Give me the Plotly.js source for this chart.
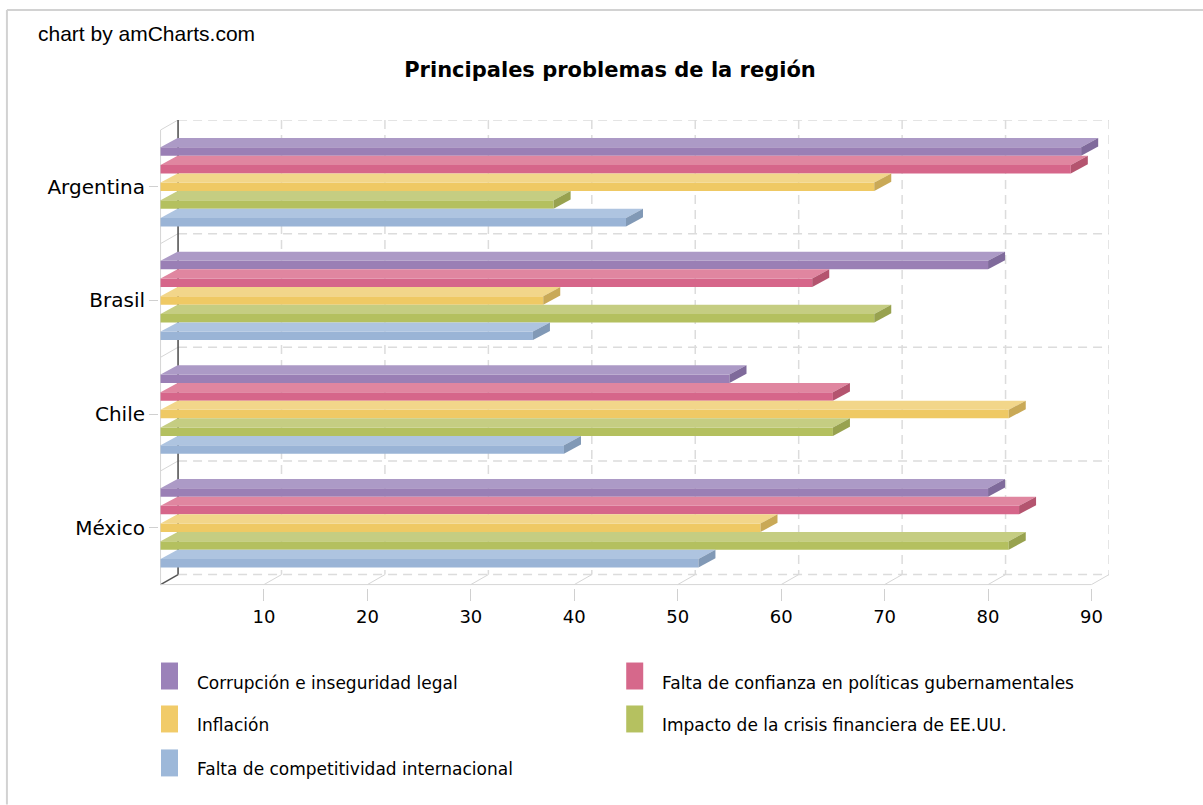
<!DOCTYPE html>
<html>
<head>
<meta charset="utf-8">
<script src="https://cdn.plot.ly/plotly-3.0.1.min.js"></script>
<style>
  html, body { margin: 0; padding: 0; background: #ffffff; }
  #chart { width: 1203px; height: 805px; }
</style>
</head>
<body>
<div id="chart"></div>
<script>
// ---------------- data ----------------
const categories = ['Argentina', 'Brasil', 'Chile', 'México'];
const seriesNames = [
  'Corrupción e inseguridad legal',
  'Falta de confianza en políticas gubernamentales',
  'Inflación',
  'Impacto de la crisis financiera de EE.UU.',
  'Falta de competitividad internacional'
];
const corrupcion     = [89, 80, 55, 80];
const confianza      = [88, 63, 65, 83];
const inflacion      = [69, 37, 82, 58];
const crisis         = [38, 69, 65, 82];
const competitividad = [45, 36, 39, 52];
const xTickVals = [10, 20, 30, 40, 50, 60, 70, 80, 90];
const xTickText = ['10', '20', '30', '40', '50', '60', '70', '80', '90'];

const chartTitle = 'Principales problemas de la región';
const creditText = 'chart by amCharts.com';

// ---------------- styles ----------------
const frontColors  = ['#9a7fb5', '#d6668a', '#efc964', '#b4c05f', '#9ab4d6'];
const topColors    = ['#ac9ac6', '#e086a0', '#f2d68a', '#c5cd82', '#aec4e0'];
const capColors    = ['#7f6a9b', '#b4546f', '#c9a957', '#98a24f', '#8199b6'];
const legendColors = ['#9b82b9', '#d6688b', '#f1cb69', '#b5c160', '#9db8d9'];

const allSeries = [corrupcion, confianza, inflacion, crisis, competitividad];

// geometry (data units)
const PXU = 10.339, PYU = 113.75;
const S = 17.7 / PYU;      // step between bars in a group
const BDY = 9.2 / PYU;     // bar depth (vertical)
const BH = S - BDY;        // front face height
const BDX = 17 / PXU;      // bar depth (horizontal)
const PDX = 17.5 / PXU;    // plane depth (horizontal)
const PDY = 10 / PYU;      // plane depth (vertical)
const XMAX = 90;
const xRange = [-0.15, XMAX + PDX];
const yRange = [3.53, -0.5 - PDY];

const L = 159, T = 120;
const W = (xRange[1] - xRange[0]) * PXU;
const H = (yRange[0] - yRange[1]) * PYU;
const R = 1203 - L - W;
const B = 805 - T - H;
const px2x = p => (p - L) / W;
const py2y = p => (T + H - p) / H;

const catPos = categories.map((c, k) => k);

// ---------------- traces ----------------
const traces = allSeries.map((vals, i) => ({
  type: 'bar',
  orientation: 'h',
  name: seriesNames[i],
  x: vals,
  y: catPos,
  width: BH,
  offset: (i - 2) * S - BH / 2,
  marker: { color: frontColors[i], line: { width: 0 } },
  showlegend: false,
  hovertemplate: '%{x}<extra>' + seriesNames[i] + '</extra>'
}));

// ---------------- shapes ----------------
const shapes = [];
const gridColor = '#dcdcdc';
const yTopBack = -0.5 - PDY, yBotBack = 3.5 - PDY;

// back plane vertical dashed grid lines
xTickVals.forEach(v => {
  shapes.push({ type: 'line', xref: 'x', yref: 'y', layer: 'below',
    x0: v + PDX, x1: v + PDX, y0: yTopBack, y1: yBotBack,
    line: { color: gridColor, width: 1.5, dash: '9px,6px' } });
});
// back plane horizontal dashed grid lines (category boundaries)
for (let k = 0; k <= categories.length; k++) {
  shapes.push({ type: 'line', xref: 'x', yref: 'y', layer: 'below',
    x0: PDX, x1: XMAX + PDX, y0: k - 0.5 - PDY, y1: k - 0.5 - PDY,
    line: { color: gridColor, width: 1.5, dash: '9px,6px' } });
}
// floor connectors (front -> back) at each tick
[0].concat(xTickVals).forEach(v => {
  shapes.push({ type: 'line', xref: 'x', yref: 'y', layer: 'below',
    x0: v, x1: v + PDX, y0: 3.5, y1: 3.5 - PDY,
    line: { color: v === 0 ? '#555555' : '#d6d6d6', width: v === 0 ? 1.5 : 1 } });
});
// left wall connectors at category boundaries
for (let k = 0; k < categories.length; k++) {
  shapes.push({ type: 'line', xref: 'x', yref: 'y', layer: 'below',
    x0: 0, x1: PDX, y0: k - 0.5, y1: k - 0.5 - PDY,
    line: { color: '#d6d6d6', width: 1 } });
}
// front left line and front bottom line
shapes.push({ type: 'line', xref: 'x', yref: 'y', layer: 'below',
  x0: 0, x1: 0, y0: -0.5, y1: 3.5, line: { color: '#d6d6d6', width: 1 } });
shapes.push({ type: 'line', xref: 'x', yref: 'y', layer: 'below',
  x0: 0, x1: XMAX, y0: 3.5, y1: 3.5, line: { color: '#d6d6d6', width: 1 } });
// dark back value-axis line
shapes.push({ type: 'line', xref: 'x', yref: 'y', layer: 'below',
  x0: PDX, x1: PDX, y0: yTopBack, y1: yBotBack, line: { color: '#555555', width: 1.6 } });

// 3D faces of bars (top faces and end caps), computed from the data
allSeries.forEach((vals, i) => {
  vals.forEach((v, k) => {
    const yt = catPos[k] + (i - 2) * S - BH / 2;
    const yb = yt + BH;
    shapes.push({ type: 'path', xref: 'x', yref: 'y', layer: 'above',
      path: `M 0,${yt} L ${v},${yt} L ${v + BDX},${yt - BDY} L ${BDX},${yt - BDY} Z`,
      fillcolor: topColors[i], line: { width: 0 } });
    shapes.push({ type: 'path', xref: 'x', yref: 'y', layer: 'above',
      path: `M ${v},${yt} L ${v},${yb} L ${v + BDX},${yb - BDY} L ${v + BDX},${yt - BDY} Z`,
      fillcolor: capColors[i], line: { width: 0 } });
  });
});

// outer frame (top and left)
shapes.push({ type: 'line', xref: 'paper', yref: 'paper',
  x0: px2x(7), x1: px2x(1203), y0: py2y(10), y1: py2y(10), line: { color: '#d2d2d2', width: 2 } });
shapes.push({ type: 'line', xref: 'paper', yref: 'paper',
  x0: px2x(7), x1: px2x(7), y0: py2y(10), y1: py2y(805), line: { color: '#d2d2d2', width: 2 } });

// ---------------- legend (manual) ----------------
const annotations = [];
const legCols = [161, 626];
const legRows = [663, 706, 750];
const MW = 17, MH = 27;
seriesNames.forEach((n, i) => {
  const cx = legCols[i % 2], ry = legRows[Math.floor(i / 2)];
  shapes.push({ type: 'rect', xref: 'paper', yref: 'paper',
    x0: px2x(cx), x1: px2x(cx + MW), y0: py2y(ry), y1: py2y(ry + MH),
    fillcolor: legendColors[i], line: { width: 0 } });
  annotations.push({ xref: 'paper', yref: 'paper', x: px2x(cx + 34), y: py2y(ry + MH - 7),
    xanchor: 'left', yanchor: 'middle', showarrow: false, text: n,
    font: { family: 'DejaVu Sans, Verdana, sans-serif', size: 17, color: '#000000' } });
});

annotations.push({ xref: 'paper', yref: 'paper', x: px2x(36), y: py2y(33),
  xanchor: 'left', yanchor: 'middle', showarrow: false, text: creditText,
  font: { family: 'Liberation Sans, Arial, sans-serif', size: 21, color: '#000000' } });

// ---------------- layout ----------------
const layout = {
  width: 1203, height: 805,
  paper_bgcolor: '#ffffff', plot_bgcolor: 'rgba(0,0,0,0)',
  margin: { l: L, r: R, t: T, b: B, pad: 0 },
  barmode: 'overlay',
  title: { text: chartTitle, xref: 'container', yref: 'container',
    x: 610 / 1203, y: 1 - 70 / 805, xanchor: 'center', yanchor: 'middle',
    font: { family: 'DejaVu Sans, Verdana, sans-serif', size: 21, color: '#000000', weight: 'bold' } },
  xaxis: {
    range: xRange, tickmode: 'array', tickvals: xTickVals, ticktext: xTickText,
    showgrid: false, zeroline: false, showline: false,
    ticks: 'outside', ticklen: 12, tickcolor: '#d0d0d0', tickwidth: 1,
    tickfont: { family: 'DejaVu Sans, Verdana, sans-serif', size: 18, color: '#000000' },
    fixedrange: true
  },
  yaxis: {
    range: yRange, tickmode: 'array', tickvals: catPos, ticktext: categories,
    showgrid: false, zeroline: false, showline: false,
    ticks: 'outside', ticklen: 9, tickcolor: '#d0d0d0', tickwidth: 1,
    tickfont: { family: 'DejaVu Sans, Verdana, sans-serif', size: 20, color: '#000000' },
    fixedrange: true
  },
  shapes: shapes,
  annotations: annotations,
  showlegend: false
};

Plotly.newPlot('chart', traces, layout, { displayModeBar: false, staticPlot: true });
</script>
</body>
</html>
